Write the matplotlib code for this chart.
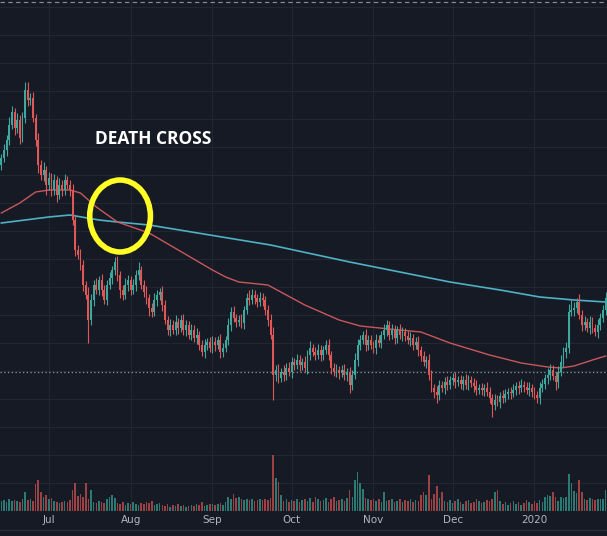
import numpy as np
import pandas as pd
import matplotlib
matplotlib.use('Agg')
import matplotlib.pyplot as plt
from matplotlib.patches import Ellipse
from matplotlib.lines import Line2D
from matplotlib.ticker import MultipleLocator
from matplotlib.transforms import blended_transform_factory

# daily candles, 13 Jun 2019 .. 28 Jan 2020 (prices in arbitrary units, no axis shown)
dates = pd.date_range('2019-06-13', periods=230, freq='D')
first_open = 335
close = [342, 350, 360, 375, 388, 372, 380, 362, 382, 410,
         400, 402, 382, 360, 335, 325, 330, 315, 322, 310,
         320, 305, 315, 310, 320, 315, 310, 280, 250, 245,
         235, 215, 205, 180, 200, 215, 210, 220, 210, 200,
         215, 222, 230, 238, 225, 210, 205, 215, 220, 210,
         215, 225, 230, 215, 208, 202, 192, 188, 200, 205,
         208, 195, 180, 170, 175, 170, 178, 172, 180, 170,
         175, 165, 170, 162, 165, 155, 148, 155, 158, 152,
         158, 155, 160, 148, 152, 160, 175, 188, 182, 178,
         180, 177, 190, 202, 200, 205, 202, 198, 202, 200,
         190, 180, 165, 125, 130, 122, 128, 125, 132, 128,
         138, 135, 140, 135, 138, 132, 145, 152, 148, 145,
         150, 145, 150, 155, 145, 132, 128, 130, 127, 130,
         125, 128, 115, 125, 140, 155, 160, 165, 155, 160,
         155, 152, 160, 157, 165, 170, 175, 165, 170, 162,
         170, 165, 168, 164, 160, 162, 155, 158, 150, 144,
         138, 140, 125, 112, 108, 105, 115, 112, 118, 115,
         120, 122, 118, 120, 116, 120, 115, 120, 117, 114,
         110, 112, 110, 112, 108, 102, 95, 100, 98, 104,
         102, 106, 108, 107, 110, 114, 112, 115, 113, 110,
         112, 108, 105, 102, 112, 116, 122, 125, 130, 124,
         118, 128, 138, 148, 152, 188, 190, 192, 198, 185,
         175, 178, 172, 178, 172, 168, 175, 182, 190, 202]
upper_wick = [4, 6, 5, 8, 6, 4, 7, 5, 6, 8,
              8, 5, 6, 4, 7, 5, 8, 4, 6, 5,
              6, 4, 7, 5, 6, 4, 5, 6, 4, 5,
              6, 5, 4, 8, 6, 5, 7, 4, 6, 5,
              5, 6, 4, 5, 6, 4, 5, 7, 5, 4,
              6, 5, 8, 4, 5, 6, 4, 5, 7, 5,
              4, 6, 5, 4, 6, 5, 7, 4, 5, 6,
              5, 4, 6, 5, 7, 4, 5, 6, 4, 5,
              6, 5, 4, 6, 5, 4, 7, 5, 6, 4,
              5, 6, 4, 5, 8, 6, 5, 4, 6, 5,
              4, 5, 6, 8, 5, 6, 4, 7, 5, 6,
              5, 4, 6, 5, 4, 6, 5, 7, 4, 5,
              6, 5, 4, 5, 6, 4, 5, 6, 4, 5,
              6, 4, 5, 5, 7, 6, 5, 4, 6, 5,
              5, 4, 6, 5, 4, 6, 5, 4, 6, 5,
              4, 6, 5, 4, 5, 6, 4, 5, 6, 4,
              5, 4, 6, 5, 4, 6, 5, 4, 5, 6,
              4, 5, 6, 4, 5, 4, 6, 5, 4, 5,
              6, 4, 5, 4, 6, 5, 4, 6, 5, 4,
              6, 5, 4, 5, 6, 4, 5, 6, 4, 5,
              6, 4, 5, 4, 6, 5, 4, 7, 6, 5,
              4, 6, 7, 5, 6, 8, 10, 6, 4, 8,
              5, 6, 4, 6, 5, 4, 6, 5, 5, 6]
lower_wick = [5, 4, 6, 5, 4, 7, 5, 6, 4, 5,
              6, 5, 4, 6, 8, 5, 6, 10, 5, 6,
              5, 7, 4, 6, 5, 4, 6, 5, 6, 4,
              5, 6, 4, 23, 5, 6, 4, 5, 6, 4,
              5, 4, 6, 5, 6, 8, 5, 4, 6, 5,
              4, 6, 5, 4, 5, 6, 8, 5, 4, 6,
              5, 6, 4, 5, 6, 4, 5, 6, 4, 5,
              6, 4, 5, 4, 6, 5, 4, 6, 5, 4,
              5, 6, 4, 6, 5, 4, 5, 6, 4, 5,
              4, 5, 6, 4, 5, 4, 6, 5, 4, 6,
              5, 6, 4, 25, 6, 5, 4, 6, 5, 4,
              6, 5, 4, 6, 5, 4, 6, 5, 4, 5,
              4, 6, 5, 4, 5, 6, 4, 5, 6, 4,
              5, 6, 8, 5, 4, 6, 5, 4, 6, 5,
              4, 5, 6, 4, 5, 4, 6, 5, 4, 6,
              5, 4, 6, 5, 4, 6, 5, 4, 6, 5,
              4, 6, 5, 4, 6, 8, 5, 4, 6, 5,
              4, 5, 6, 4, 5, 6, 4, 5, 4, 6,
              5, 4, 5, 6, 4, 5, 12, 5, 4, 6,
              5, 4, 5, 6, 4, 5, 6, 4, 5, 4,
              6, 5, 4, 5, 6, 4, 5, 6, 5, 4,
              8, 6, 4, 5, 6, 5, 4, 6, 5, 4,
              6, 5, 4, 6, 5, 4, 6, 5, 4, 5]
volume = [10, 11, 9, 12, 10, 11, 10, 9, 12, 19,
          11, 12, 10, 26, 30, 19, 14, 16, 12, 13,
          10, 9, 8, 9, 10, 9, 11, 21, 27, 15,
          17, 14, 27, 12, 21, 9, 8, 10, 9, 8,
          12, 14, 16, 13, 8, 7, 9, 6, 8, 7,
          9, 7, 6, 8, 7, 9, 8, 10, 6, 7,
          8, 6, 5, 7, 4, 6, 5, 7, 5, 6,
          4, 5, 6, 5, 7, 6, 9, 5, 6, 7,
          7, 6, 7, 8, 6, 9, 14, 12, 17, 13,
          14, 12, 11, 12, 11, 12, 10, 11, 12, 11,
          12, 11, 13, 55, 32, 28, 16, 10, 12, 9,
          11, 10, 12, 9, 11, 12, 10, 13, 9, 14,
          12, 10, 11, 13, 9, 12, 14, 10, 11, 12,
          10, 13, 21, 14, 30, 38, 27, 22, 13, 12,
          11, 12, 10, 12, 9, 19, 10, 11, 12, 9,
          10, 12, 9, 11, 10, 12, 9, 11, 10, 16,
          19, 16, 35, 12, 17, 24, 13, 19, 10, 9,
          11, 8, 10, 12, 9, 7, 10, 11, 8, 9,
          12, 10, 8, 9, 11, 10, 12, 19, 21, 10,
          7, 9, 6, 8, 10, 7, 9, 6, 8, 11,
          9, 7, 10, 8, 11, 9, 14, 16, 15, 19,
          14, 10, 14, 13, 14, 36, 27, 20, 18, 30,
          19, 12, 11, 13, 12, 11, 12, 12, 12, 21]

# moving averages (day index, value)
ma50_day = [0, 7, 13, 18, 26, 30, 36, 44, 56, 69, 80, 85, 90, 101, 108, 115,
            128, 136, 147, 159, 170, 185, 197, 207, 212, 217, 224, 229]
ma50_val = [287, 297, 308, 310, 310, 307, 293, 278, 267, 247, 230, 223, 218, 215, 205, 195,
            180, 174, 171, 168, 157, 145, 137, 133, 132, 134, 140, 144]
ma200_day = [0, 18, 26, 37, 44, 56, 79, 102, 132, 151, 170, 189, 204, 217, 229]
ma200_val = [277, 283, 285, 280, 278, 275, 265, 255, 238, 228, 218, 210, 203, 200, 198]
ref_level = 128
top_level = 498

bg = '#161a25'
up_col, dn_col = '#3fa89c', '#e05757'
vup_col, vdn_col = '#2b7a73', '#9c4245'

close = np.array(close, float)
opn = np.r_[first_open, close[:-1]]
hi = np.maximum(opn, close) + np.array(upper_wick)
lo = np.minimum(opn, close) - np.array(lower_wick)
vol = np.array(volume, float)
x = np.arange(len(close))
up = close >= opn

fig = plt.figure(figsize=(6.07, 5.36), dpi=100, facecolor=bg)
ax = fig.add_axes([0, 25/536, 1, 511/536], facecolor=bg)

# volume overlay in the bottom ~11% of the pane
vtr = blended_transform_factory(ax.transData, ax.transAxes)
ax.bar(x, vol / vol.max() * 0.11, width=0.6, bottom=0, transform=vtr,
       color=np.where(up, vup_col, vdn_col), zorder=1)

ax.plot(ma200_day, ma200_val, color='#4fb0c6', lw=1.2, zorder=2)
ax.plot(ma50_day, ma50_val, color='#c8585b', lw=1.0, zorder=2)
ax.axhline(ref_level, color='#7a9fa0', lw=0.9, ls=(0, (1, 2)), zorder=2)
ax.axhline(top_level, color='#8a8e99', lw=0.8, ls=(0, (4, 3)), zorder=2)

col = np.where(up, up_col, dn_col)
ax.vlines(x, lo, hi, colors=col, lw=0.8, zorder=3)
ax.bar(x, np.maximum(np.abs(close - opn), 0.8), bottom=np.minimum(opn, close),
       width=0.7, color=col, zorder=3)

# hand-drawn circle around the cross
ax.add_patch(Ellipse((45, 284), width=23, height=72, fill=False,
                     ec='#ffff26', lw=4, zorder=5))
fig.text(95/607, 1 - 139/536, 'DEATH CROSS', color='white', fontsize=12.5,
         fontweight='bold', family='Open Sans', va='center', ha='left')

ax.set_xlim(-0.5, len(x) - 0.5)
ax.set_ylim(-11, 500)
month_starts = [i for i, d in enumerate(dates) if d.day == 1]
ax.set_xticks(month_starts)
ax.set_xticklabels(['2020' if dates[i].month == 1 else dates[i].strftime('%b')
                    for i in month_starts])
ax.yaxis.set_major_locator(MultipleLocator(28, offset=17))
ax.grid(True, color='#222632', lw=0.8)
ax.set_axisbelow(True)
ax.tick_params(axis='x', length=0, pad=3, labelcolor='#b2b5be', labelsize=7.5)
ax.tick_params(axis='y', length=0, labelleft=False)
for s in ax.spines.values():
    s.set_visible(False)

fig.add_artist(Line2D([0, 1], [6/536, 6/536], transform=fig.transFigure,
                      color='#2a2e39', lw=1))

fig.savefig('out.png', dpi=100, facecolor=bg)
